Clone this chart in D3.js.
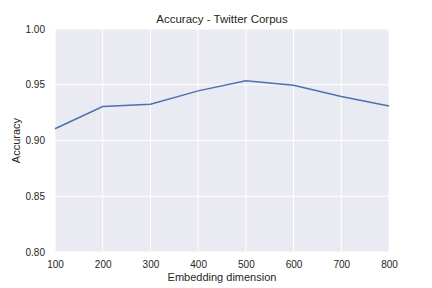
<!DOCTYPE html>
<html>
<head>
<meta charset="utf-8">
<script src="https://cdn.jsdelivr.net/npm/d3@7"></script>
<style>
  body { margin: 0; background: #fff; }
  text { font-family: "Liberation Sans", Arial, sans-serif; fill: #262626; }
</style>
</head>
<body>
<svg id="chart" width="432" height="288"></svg>
<script>
const dims = [100, 200, 300, 400, 500, 600, 700, 800];
const accuracy = [0.9105, 0.9305, 0.9325, 0.9445, 0.9535, 0.9495, 0.9395, 0.931];
const xTicks = [100, 200, 300, 400, 500, 600, 700, 800];
const yTicks = [0.80, 0.85, 0.90, 0.95, 1.00];

const svg = d3.select('#chart');
const margin = {left: 55, right: 43, top: 29, bottom: 36};
const width = 432, height = 288;

let x = d3.scaleLinear()
          .domain([100, 800])
          .range([margin.left, width - margin.right]);
let y = d3.scaleLinear()
          .domain([0.80, 1.00])
          .range([height - margin.bottom, margin.top]);

// background
svg.append('rect')
   .attr('x', x(100))
   .attr('y', y(1.0))
   .attr('width', x(800) - x(100))
   .attr('height', y(0.8) - y(1.0))
   .attr('fill', '#EAEAF2');

// grid
svg.append('g')
   .selectAll('line')
   .data(xTicks)
   .enter()
   .append('line')
   .attr('x1', d => x(d))
   .attr('x2', d => x(d))
   .attr('y1', y(0.8))
   .attr('y2', y(1.0))
   .attr('stroke', 'white')
   .attr('stroke-width', 1);
svg.append('g')
   .selectAll('line')
   .data(yTicks)
   .enter()
   .append('line')
   .attr('x1', x(100))
   .attr('x2', x(800))
   .attr('y1', d => y(d))
   .attr('y2', d => y(d))
   .attr('stroke', 'white')
   .attr('stroke-width', 1);

// axes (labels only, seaborn style)
let xAxis = svg.append('g')
   .attr('transform', `translate(0,${y(0.8)})`)
   .call(d3.axisBottom(x).tickValues(xTicks).tickSize(0).tickPadding(9).tickFormat(d3.format('d')));
let yAxis = svg.append('g')
   .attr('transform', `translate(${x(100)},0)`)
   .call(d3.axisLeft(y).tickValues(yTicks).tickSize(0).tickPadding(10).tickFormat(d3.format('.2f')));
[xAxis, yAxis].forEach(a => {
  a.select('.domain').remove();
  a.selectAll('text')
   .attr('font-size', '10px')
   .attr('font-family', '"Liberation Sans", Arial, sans-serif')
   .attr('fill', '#262626');
});

// line
let line = d3.line()
             .x((d, i) => x(dims[i]))
             .y(d => y(d));
svg.append('path')
   .attr('d', line(accuracy))
   .attr('fill', 'none')
   .attr('stroke', '#4C72B0')
   .attr('stroke-width', 1.5);

// labels
svg.append('text')
   .attr('x', (x(100) + x(800)) / 2)
   .attr('y', 23)
   .attr('text-anchor', 'middle')
   .attr('font-size', '11.5px')
   .text('Accuracy - Twitter Corpus');
svg.append('text')
   .attr('x', (x(100) + x(800)) / 2)
   .attr('y', 281)
   .attr('text-anchor', 'middle')
   .attr('font-size', '11px')
   .text('Embedding dimension');
svg.append('text')
   .attr('transform', `translate(20,${(y(0.8) + y(1.0)) / 2}) rotate(-90)`)
   .attr('text-anchor', 'middle')
   .attr('font-size', '11px')
   .text('Accuracy');
</script>
</body>
</html>
